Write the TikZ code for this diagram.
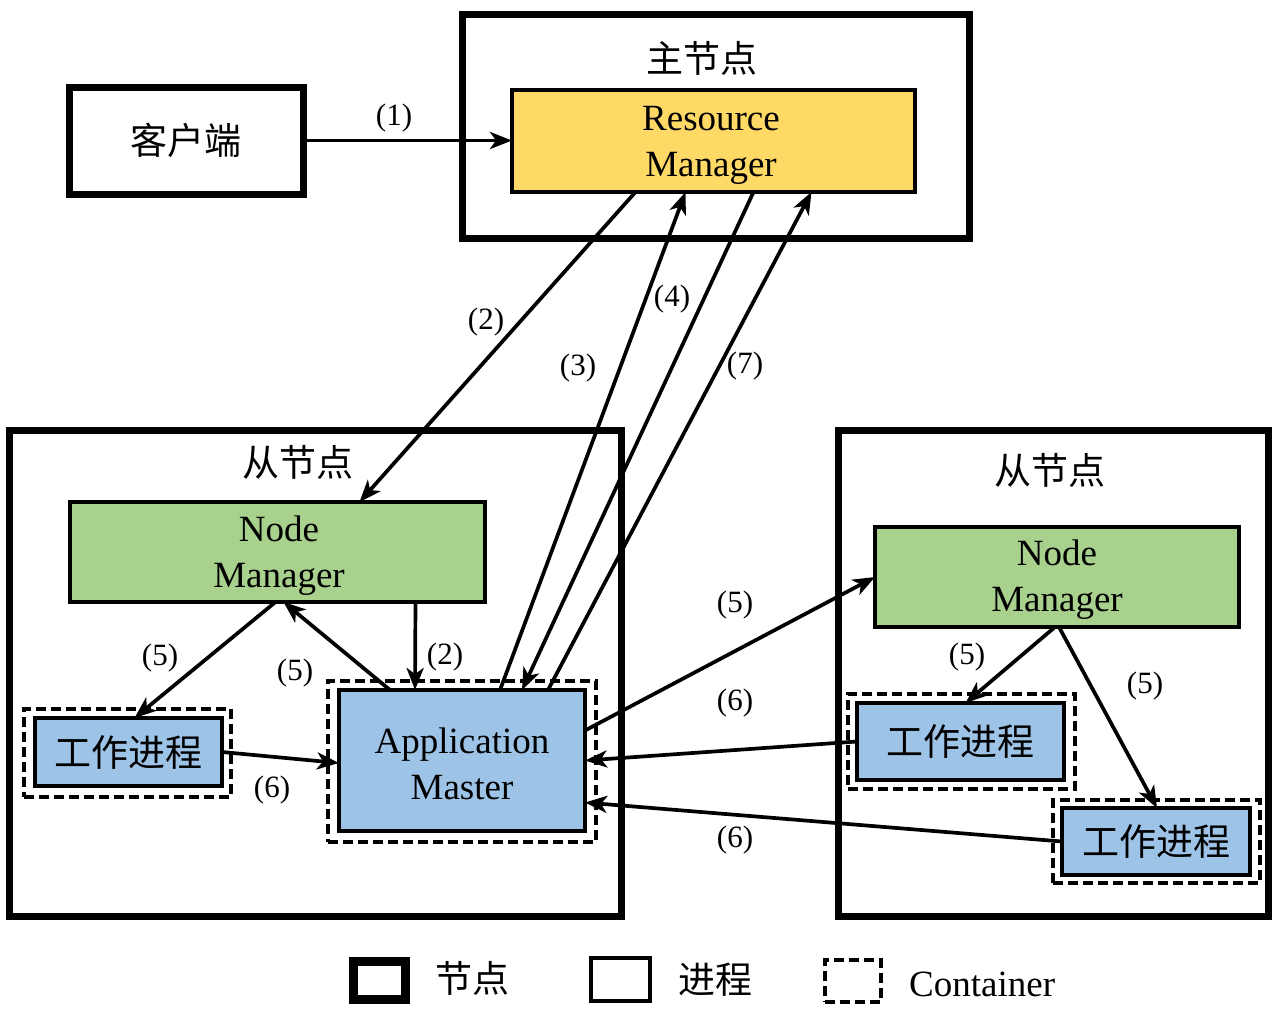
\documentclass[tikz,border=0pt]{standalone}
\usepackage{fontspec}
\setmainfont{Liberation Serif}
\newfontfamily\cjk{Noto Sans CJK SC}
\usetikzlibrary{arrows.meta}
\definecolor{rmgold}{HTML}{FFD966}
\definecolor{nmgreen}{HTML}{A9D18E}
\definecolor{wkblue}{HTML}{9DC3E6}
\begin{document}
\begin{tikzpicture}[x=1pt,y=-1pt,
  hostbox/.style={draw,line width=7pt,inner sep=0pt,outer sep=0pt},
  procbox/.style={draw,line width=3.8pt,inner sep=0pt,outer sep=0pt,align=center,font=\fontsize{37}{46}\selectfont},
  boxtext/.style={inner sep=0pt,align=center,font=\fontsize{37}{46}\selectfont},
  contbox/.style={draw,line width=3.8pt,dash pattern=on 10pt off 5pt,inner sep=0pt,outer sep=0pt},
  title/.style={font=\cjk\fontsize{37}{46}\selectfont,inner sep=0pt},
  lbl/.style={font=\fontsize{31}{36}\selectfont,inner sep=0pt},
  conn/.style={line width=3.7pt,-{Stealth[length=22pt,width=17pt,inset=6pt]}}
]
\useasboundingbox (0,0) rectangle (1273,1012);

% master node
\node[hostbox,minimum width=507pt,minimum height=224pt] (master) at (715.5,126) {};
\node[title] (mastertitle) at (702,58) {主节点};
\node[procbox,fill=rmgold,minimum width=403pt,minimum height=102pt] (rm) at (713.5,141) {};
\node[boxtext] (rmtext) at (711,145) {Resource\\Manager};

% client
\node[hostbox,minimum width=234pt,minimum height=107pt,font=\cjk\fontsize{37}{46}\selectfont] (client) at (186,140.5) {客户端};

% left slave
\node[hostbox,minimum width=612pt,minimum height=486pt] (slaveL) at (315,673) {};
\node[title] (slaveLtitle) at (298,462) {从节点};
\node[procbox,fill=nmgreen,minimum width=415pt,minimum height=100pt] (nml) at (277.5,552) {};
\node[boxtext] (nmltext) at (279,556) {Node\\Manager};
\node[contbox,minimum width=207pt,minimum height=88pt] (wlc) at (127.5,753) {};
\node[procbox,fill=wkblue,minimum width=187pt,minimum height=68pt,font=\cjk\fontsize{37}{46}\selectfont] (wl) at (128.5,752) {工作进程};
\node[contbox,minimum width=268pt,minimum height=161pt] (amc) at (462,761.5) {};
\node[procbox,fill=wkblue,minimum width=246pt,minimum height=141pt] (am) at (462,760.5) {};
\node[boxtext] (amtext) at (462,764) {Application\\Master};

% right slave
\node[hostbox,minimum width=430pt,minimum height=486pt] (slaveR) at (1053,673) {};
\node[title] (slaveRtitle) at (1050,470) {从节点};
\node[procbox,fill=nmgreen,minimum width=364pt,minimum height=100pt] (nmr) at (1057,577) {};
\node[boxtext] (nmrtext) at (1057,580) {Node\\Manager};
\node[contbox,minimum width=227pt,minimum height=95pt] (wr1c) at (961.5,741.5) {};
\node[procbox,fill=wkblue,minimum width=207pt,minimum height=77pt,font=\cjk\fontsize{37}{46}\selectfont] (wr1) at (960.5,741.5) {工作进程};
\node[contbox,minimum width=207pt,minimum height=83pt] (wr2c) at (1156.5,841.5) {};
\node[procbox,fill=wkblue,minimum width=188pt,minimum height=67pt,font=\cjk\fontsize{37}{46}\selectfont] (wr2) at (1156,841.5) {工作进程};

% connectors
\draw[conn] (client.east) -- (client.east -| rm.west);
\draw[conn] ([xshift=-78pt]rm.south) -- ([xshift=82pt]nml.north);
\draw[conn] ([xshift=38pt]am.north) -- ([xshift=-28pt]rm.south);
\draw[conn] ([xshift=40pt]rm.south) -- ([xshift=60pt]am.north);
\draw[conn] ([xshift=86pt]am.north) -- ([xshift=98pt]rm.south);

\draw[conn] ([xshift=-2pt]nml.south) -- ([xshift=6pt]wl.north);
\draw[conn] ([xshift=-72pt]am.north) -- ([xshift=6pt]nml.south);
\draw[conn] ([xshift=138pt]nml.south) -- ([xshift=-47pt]am.north);
\draw[conn] (wl.east) -- ([yshift=-2.5pt]am.west);

\draw[conn] ([yshift=30pt]am.east) -- (nmr.west);
\draw[conn] (wr1.west) -- (am.east);
\draw[conn] (wr2.west) -- ([yshift=-42pt]am.east);
\draw[conn] ([xshift=-2pt]nmr.south) -- ([xshift=5pt]wr1.north);
\draw[conn] ([xshift=2pt]nmr.south) -- ([xshift=1pt]wr2.north);

% labels
\node[lbl] (l1) at (394,118) {(1)};
\node[lbl] (l2a) at (486,322) {(2)};
\node[lbl] (l3) at (578,368) {(3)};
\node[lbl] (l4) at (672,299) {(4)};
\node[lbl] (l7) at (745,366) {(7)};
\node[lbl] (l5a) at (160,658) {(5)};
\node[lbl] (l5b) at (295,673) {(5)};
\node[lbl] (l2b) at (445,657) {(2)};
\node[lbl] (l6a) at (272,790) {(6)};
\node[lbl] (l5c) at (735,605) {(5)};
\node[lbl] (l6b) at (735,703) {(6)};
\node[lbl] (l6c) at (735,840) {(6)};
\node[lbl] (l5d) at (967,657) {(5)};
\node[lbl] (l5e) at (1145,686) {(5)};

% legend
\node[draw,line width=9pt,minimum width=52pt,minimum height=38pt,inner sep=0pt] (legnode) at (379,980) {};
\node[title,anchor=west] (legnodet) at (435,978) {节点};
\node[draw,line width=3.8pt,minimum width=59pt,minimum height=43pt,inner sep=0pt] (legproc) at (620.5,979.5) {};
\node[title,anchor=west] (legproct) at (678,980) {进程};
\node[contbox,minimum width=56pt,minimum height=42pt] (legcont) at (853,981) {};
\node[anchor=west,inner sep=0pt,font=\fontsize{37}{46}\selectfont] (legcontt) at (909,984) {Container};
\end{tikzpicture}
\end{document}
